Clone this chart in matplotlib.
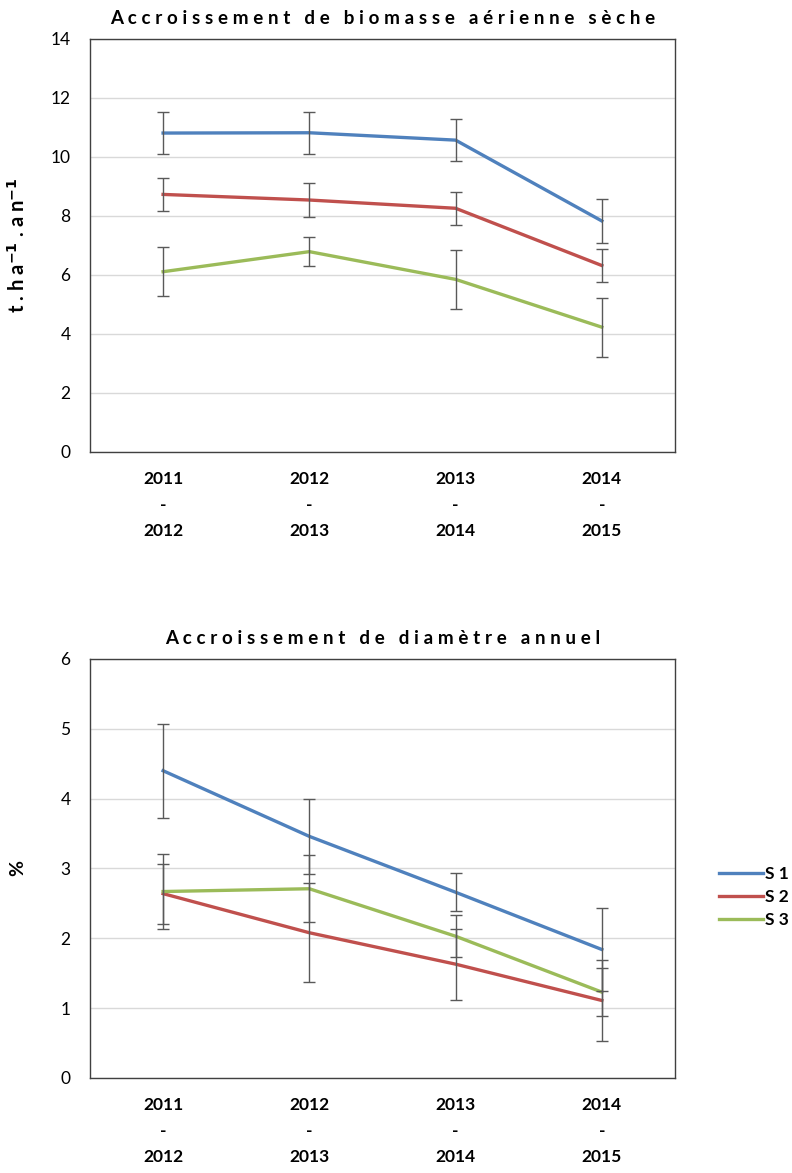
"""Accroissement de biomasse et de diamètre — S1, S2, S3."""

import numpy as np
import matplotlib.pyplot as plt

plt.rcParams['font.family'] = ['Lato', 'DejaVu Sans']

# Données
periodes = ['2011\n-\n2012', '2012\n-\n2013', '2013\n-\n2014', '2014\n-\n2015']
series = ['S 1', 'S 2', 'S 3']
couleurs = ['#4F81BD', '#C0504D', '#9BBB59']

# Biomasse aérienne sèche (t.ha-1.an-1)
bio_s1 = [10.81, 10.82, 10.57, 7.83]
bio_s2 = [8.73, 8.54, 8.26, 6.32]
bio_s3 = [6.11, 6.79, 5.85, 4.23]
bio_err_s1 = [0.72, 0.72, 0.72, 0.73]
bio_err_s2 = [0.56, 0.56, 0.55, 0.56]
bio_err_s3 = [0.84, 0.50, 1.00, 1.00]

# Diamètre annuel (%)
diam_s1 = [4.40, 3.46, 2.66, 1.84]
diam_s2 = [2.64, 2.08, 1.63, 1.11]
diam_s3 = [2.67, 2.71, 2.03, 1.23]
diam_err_s1 = [0.67, 0.54, 0.27, 0.60]
diam_err_s2 = [0.43, 0.71, 0.51, 0.58]
diam_err_s3 = [0.54, 0.48, 0.30, 0.34]


def espace(txt, n=2):
    # lettres espacées comme dans Excel
    return ('\u2009' * n).join(txt)


def panneau(ax, valeurs, erreurs, titre, ymax, ystep):
    x = np.arange(len(periodes))
    lignes = []
    for v, e, c, nom in zip(valeurs, erreurs, couleurs, series):
        l, = ax.plot(x, v, color=c, lw=2.4, label=nom, zorder=3)
        ax.errorbar(x, v, yerr=e, fmt='none', ecolor='#595959', elinewidth=1,
                    capsize=4, capthick=1, zorder=4)
        lignes.append(l)
    ax.set_xlim(-0.5, len(periodes) - 0.5)
    ax.set_ylim(0, ymax)
    ax.set_yticks(np.arange(0, ymax + 0.01, ystep))
    ax.set_xticks(x)
    ax.set_xticklabels(periodes, fontsize=12.5, fontweight='bold', linespacing=1.75)
    ax.tick_params(axis='both', length=0)
    ax.tick_params(axis='y', labelsize=12.5, pad=14)
    ax.tick_params(axis='x', pad=14)
    ax.grid(axis='y', color='#D9D9D9', lw=1)
    ax.set_axisbelow(True)
    for s in ax.spines.values():
        s.set_color('#404040')
        s.set_linewidth(1)
    ax.set_title(espace(titre), fontsize=13.5, fontweight='bold', pad=11)
    return lignes


fig = plt.figure(figsize=(7.92, 11.73), dpi=100)
ax1 = fig.add_axes([0.1136, 0.6147, 0.7386, 0.3521])
ax2 = fig.add_axes([0.1136, 0.0810, 0.7386, 0.3572])

panneau(ax1, [bio_s1, bio_s2, bio_s3], [bio_err_s1, bio_err_s2, bio_err_s3],
        'Accroissement de biomasse aérienne sèche', 14, 2)
lignes = panneau(ax2, [diam_s1, diam_s2, diam_s3],
                 [diam_err_s1, diam_err_s2, diam_err_s3],
                 'Accroissement de diamètre annuel', 6, 1)

fig.text(0.023, 0.791, espace('t.ha') + r'$^{\mathbf{-1}}$' + '\u2009\u2009'
         + espace('.an') + r'$^{\mathbf{-1}}$',
         rotation=90, fontsize=14.5, fontweight='bold', ha='center', va='center')
fig.text(0.023, 0.26, '%', rotation=90, fontsize=14, fontweight='bold',
         ha='center', va='center')

fig.legend(lignes, series, loc='center left', bbox_to_anchor=(0.908, 0.235),
           frameon=False, handlelength=2.5, handletextpad=0.15,
           labelspacing=0.4, borderaxespad=0, borderpad=0,
           prop={'weight': 'bold', 'size': 12.5})

fig.savefig('out.png', dpi=100)
